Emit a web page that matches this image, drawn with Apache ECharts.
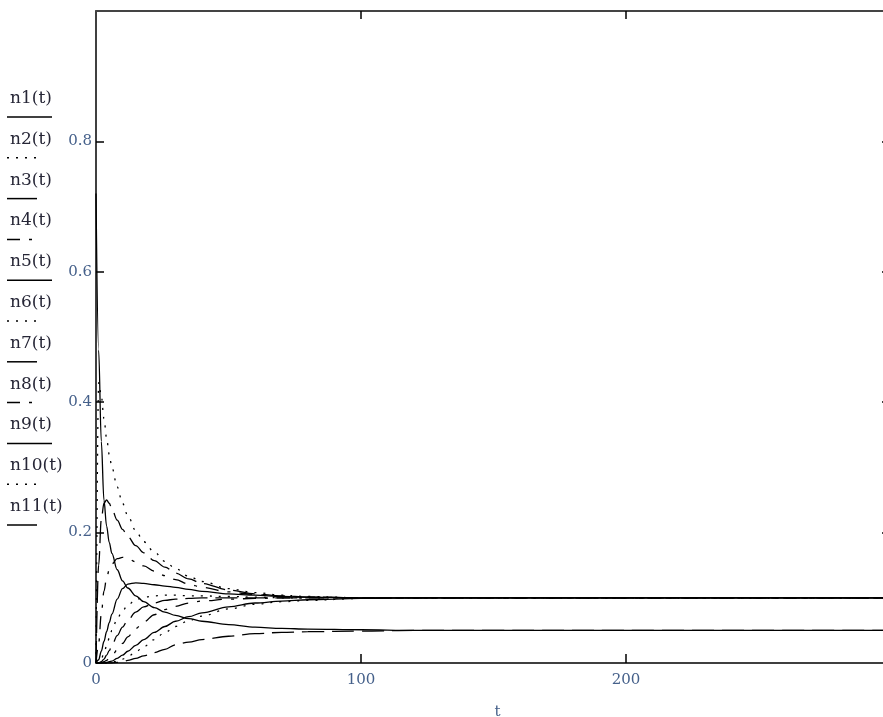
<!DOCTYPE html>
<html>
<head>
<meta charset="utf-8">
<script src="https://cdn.jsdelivr.net/npm/echarts@6/dist/echarts.min.js"></script>
<style>html,body{margin:0;padding:0;background:#fff}#c{width:883px;height:717px}</style>
</head>
<body>
<div id="c"></div>
<script>
// time samples
const t   = [0,1,2,3,4,5,6,8,10,12,15,18,22,26,30,35,40,50,60,70,80,100,120,150,200,300];
const n1  = [0.72,0.48,0.34,0.25,0.21,0.185,0.168,0.143,0.126,0.115,0.103,0.094,0.085,0.078,0.073,0.068,0.064,0.059,0.055,0.053,0.052,0.051,0.05,0.05,0.05,0.05];
const n2  = [0,0.43,0.41,0.375,0.345,0.32,0.30,0.27,0.245,0.226,0.203,0.186,0.17,0.156,0.145,0.133,0.125,0.114,0.108,0.104,0.102,0.1,0.1,0.1,0.1,0.1];
const n3  = [0,0.15,0.22,0.245,0.25,0.245,0.236,0.219,0.205,0.194,0.18,0.169,0.157,0.147,0.138,0.129,0.122,0.112,0.106,0.103,0.101,0.1,0.1,0.1,0.1,0.1];
const n4  = [0,0.03,0.075,0.11,0.13,0.143,0.152,0.16,0.162,0.16,0.155,0.149,0.141,0.134,0.128,0.121,0.116,0.109,0.105,0.102,0.101,0.1,0.1,0.1,0.1,0.1];
const n5  = [0,0.005,0.018,0.033,0.048,0.062,0.075,0.098,0.114,0.121,0.123,0.122,0.12,0.118,0.116,0.113,0.11,0.106,0.104,0.102,0.101,0.1,0.1,0.1,0.1,0.1];
const n6  = [0,0.001,0.006,0.015,0.026,0.038,0.05,0.068,0.08,0.089,0.097,0.101,0.103,0.104,0.104,0.103,0.103,0.102,0.101,0.1,0.1,0.1,0.1,0.1,0.1,0.1];
const n7  = [0,0,0.002,0.006,0.012,0.019,0.027,0.042,0.055,0.066,0.078,0.086,0.092,0.096,0.098,0.099,0.1,0.1,0.1,0.1,0.1,0.1,0.1,0.1,0.1,0.1];
const n8  = [0,0,0,0.002,0.004,0.007,0.011,0.02,0.03,0.04,0.053,0.063,0.074,0.082,0.087,0.092,0.095,0.098,0.099,0.1,0.1,0.1,0.1,0.1,0.1,0.1];
const n9  = [0,0,0,0,0.001,0.002,0.003,0.007,0.012,0.018,0.027,0.036,0.047,0.056,0.064,0.071,0.077,0.086,0.092,0.095,0.097,0.099,0.1,0.1,0.1,0.1];
const n10 = [0,0,0,0,0,0,0.001,0.003,0.006,0.01,0.017,0.025,0.036,0.047,0.056,0.065,0.072,0.083,0.09,0.094,0.096,0.099,0.1,0.1,0.1,0.1];
const n11 = [0,0,0,0,0,0,0,0.001,0.002,0.004,0.007,0.011,0.016,0.021,0.028,0.032,0.036,0.041,0.045,0.047,0.048,0.049,0.05,0.05,0.05,0.05];
const names = ['n1(t)','n2(t)','n3(t)','n4(t)','n5(t)','n6(t)','n7(t)','n8(t)','n9(t)','n10(t)','n11(t)'];
const values = [n1,n2,n3,n4,n5,n6,n7,n8,n9,n10,n11];
const xLabels = [0,100,200];
const xTickMarks = [100,200];
const yLabels = [0,0.2,0.4,0.6,0.8];
const yTickMarks = [0.2,0.4,0.6,0.8];

const SOLID = 'solid', DOT = [2,7], DASH = [22,8], DADOT = [13,9,3,9];
const styles = [SOLID, DOT, DASH, DADOT, SOLID, DOT, DASH, DADOT, SOLID, DOT, DASH];
const legendLen = [45,36,30,32,45,36,30,32,45,36,30];

const lblColor = '#45608a';
const font = 'DejaVu Serif';

const series = values.map((v, i) => ({
  name: names[i], type: 'line', showSymbol: false, smooth: 0.35, smoothMonotone: 'x',
  data: t.map((tt, k) => [tt, v[k]]),
  lineStyle: { color: '#000', width: 1.3, type: styles[i] },
  silent: true, animation: false
}));

const graphic = [];
names.forEach((nm, i) => {
  const yc = 100 + 40.8 * i;
  graphic.push({ type: 'text', left: 10, top: yc - 10,
    style: { text: nm, font: '17px "DejaVu Serif"', fill: '#262636' } });
  const st = styles[i];
  graphic.push({ type: 'line', shape: { x1: 7, y1: yc + 17, x2: 7 + legendLen[i], y2: yc + 17 },
    style: { stroke: '#000', lineWidth: 1.5, lineDash: (st === SOLID || st === DASH) ? null : st } });
});

const chart = echarts.init(document.getElementById('c'), null, { renderer: 'canvas' });
chart.setOption({
  animation: false,
  backgroundColor: '#fff',
  grid: { left: 96, top: 11, width: 795, height: 652, containLabel: false, outerBoundsMode: 'none' },
  xAxis: [
    { type: 'value', min: 0, max: 300, interval: 100, position: 'bottom',
      axisLine: { onZero: false, lineStyle: { color: '#000', width: 1.5 } },
      axisTick: { inside: true, length: 9, customValues: xTickMarks, lineStyle: { color: '#000', width: 1.5 } },
      axisLabel: { margin: 10, color: lblColor, fontFamily: font, fontSize: 15, customValues: xLabels,
        formatter: v => String(v) },
      splitLine: { show: false },
      name: 't', nameLocation: 'middle', nameGap: 42,
      nameTextStyle: { color: lblColor, fontFamily: font, fontSize: 15, padding: [0, 0, 0, 8] } },
    { type: 'value', min: 0, max: 300, interval: 100, position: 'top',
      axisLine: { onZero: false, lineStyle: { color: '#444', width: 2 } },
      axisTick: { inside: true, length: 8, customValues: xTickMarks, lineStyle: { color: '#000', width: 1.5 } },
      axisLabel: { show: false }, splitLine: { show: false } }
  ],
  yAxis: [
    { type: 'value', min: 0, max: 1, interval: 0.2, position: 'left',
      axisLine: { onZero: false, lineStyle: { color: '#000', width: 1.5 } },
      axisTick: { inside: true, length: 8, customValues: yTickMarks, lineStyle: { color: '#000', width: 1.5 } },
      axisLabel: { margin: 4, color: lblColor, fontFamily: font, fontSize: 15, customValues: yLabels,
        formatter: v => String(Math.round(v * 10) / 10) },
      splitLine: { show: false } },
    { type: 'value', min: 0, max: 1, interval: 0.2, position: 'right',
      axisLine: { onZero: false, lineStyle: { color: '#000', width: 1.5 } },
      axisTick: { inside: true, length: 9, customValues: yTickMarks, lineStyle: { color: '#000', width: 1.5 } },
      axisLabel: { show: false }, splitLine: { show: false } }
  ],
  graphic: graphic,
  series: series
});
</script>
</body>
</html>
